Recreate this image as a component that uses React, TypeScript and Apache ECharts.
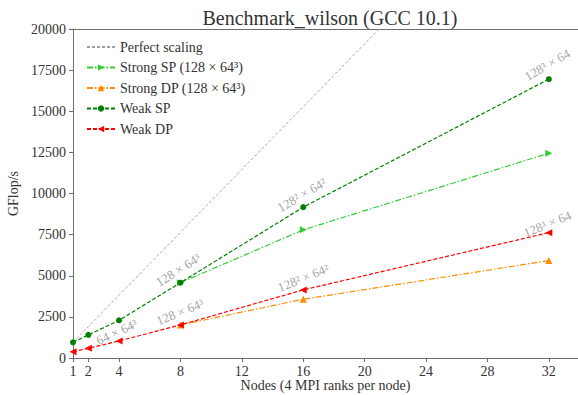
import React, { useEffect, useRef } from "react";
import * as echarts from "echarts";

const nodes = [1, 2, 4, 8, 16, 32];
const strongNodes = [8, 16, 32];
const perfectX = [1, 32];
const perfectY = [955, 30560];
const strongSP = [4580, 7790, 12450];
const strongDP = [2010, 3570, 5920];
const weakSP = [955, 1400, 2290, 4580, 9170, 16950];
const weakDP = [385, 590, 1035, 2010, 4140, 7620];
const xTicks = [1, 2, 4, 8, 12, 16, 20, 24, 28, 32];
const annoText = ["64 × 64³", "128 × 64³", "128 × 64³", "128² × 64²", "128² × 64²", "128³ × 64", "128³ × 64"];
const annoX = [3.85, 7.85, 7.97, 15.9, 16.0, 31.9, 31.9];
const annoY = [1580, 5350, 2800, 9910, 4870, 17820, 8150];
const annoAngle = [25, 32, 22, 30, 22, 30, 22];

const FONT = "'Liberation Serif', 'Times New Roman', serif";

export default function App() {
  const ref = useRef<HTMLDivElement>(null);
  useEffect(() => {
    document.body.style.margin = "0";
    const chart = echarts.init(ref.current!, null, { renderer: "svg" });
    const mk = (xs: number[], ys: number[]) => xs.map((x, i) => [x, ys[i]]);
    const axisColor = "#6e6e6e";
    chart.setOption({
      animation: false,
      textStyle: { fontFamily: FONT },
      title: {
        text: "Benchmark_wilson (GCC 10.1)",
        left: 325,
        textAlign: "center",
        top: 3,
        textStyle: { fontFamily: FONT, fontSize: 20, fontWeight: "normal", color: "#333" },
      },
      legend: {
        data: [
          { name: "Perfect scaling", itemStyle: { opacity: 0 } },
          "Strong SP (128 × 64³)",
          "Strong DP (128 × 64³)",
          "Weak SP",
          "Weak DP",
        ],
        orient: "vertical",
        left: 81,
        top: 35,
        itemWidth: 28,
        itemHeight: 8,
        itemGap: 6.5,
        selectedMode: false,
        textStyle: { fontFamily: FONT, fontSize: 14, color: "#333" },
      },
      grid: { left: 73, top: 29, right: 0, bottom: 37, outerBoundsMode: "none", containLabel: false },
      xAxis: [
        {
          type: "value",
          min: 1,
          max: 33.9,
          name: "Nodes (4 MPI ranks per node)",
          nameLocation: "middle",
          nameGap: 20,
          nameMoveOverlap: false,
          nameTextStyle: { fontFamily: FONT, fontSize: 14, color: "#333", verticalAlign: "top" },
          axisLine: { lineStyle: { color: axisColor } },
          axisTick: { show: true, length: 4, customValues: xTicks, lineStyle: { color: axisColor } },
          axisLabel: { customValues: xTicks, fontFamily: FONT, fontSize: 14, color: "#333", margin: 6 },
          splitLine: { show: false },
        },
        {
          type: "value",
          position: "top",
          min: 1,
          max: 33.9,
          axisLine: { show: true, onZero: false, lineStyle: { color: axisColor } },
          axisTick: { show: false },
          axisLabel: { show: false },
          splitLine: { show: false },
        },
      ],
      yAxis: {
        type: "value",
        min: 0,
        max: 20000,
        interval: 2500,
        name: "GFlop/s",
        nameLocation: "middle",
        nameGap: 53,
        nameMoveOverlap: false,
        nameTextStyle: { fontFamily: FONT, fontSize: 14, color: "#333" },
        axisLine: { show: true, lineStyle: { color: axisColor } },
        axisTick: { show: true, length: 4, lineStyle: { color: axisColor } },
        axisLabel: {
          fontFamily: FONT,
          fontSize: 14,
          color: "#333",
          margin: 7,
          formatter: (v: number) => String(v),
        },
        splitLine: { show: false },
      },
      series: [
        {
          name: "Perfect scaling",
          type: "line",
          data: mk(perfectX, perfectY),
          symbol: "none",
          color: "#a0a0a0",
          lineStyle: { width: 0.9, type: [3, 2], color: "#a0a0a0" },
          z: 1,
        },
        {
          name: "Strong SP (128 × 64³)",
          type: "line",
          data: mk(strongNodes, strongSP),
          symbol: "triangle",
          symbolRotate: -90,
          symbolSize: 7,
          color: "#32cd32",
          lineStyle: { width: 1.2, type: [6, 2, 1.5, 2], color: "#32cd32" },
          z: 2,
        },
        {
          name: "Strong DP (128 × 64³)",
          type: "line",
          data: mk(strongNodes, strongDP),
          symbol: "triangle",
          symbolSize: 7,
          color: "#ff8c00",
          lineStyle: { width: 1.2, type: [6, 2, 1.5, 2], color: "#ff8c00" },
          z: 2,
        },
        {
          name: "Weak SP",
          type: "line",
          data: mk(nodes, weakSP),
          symbol: "circle",
          symbolSize: 6,
          color: "#008000",
          lineStyle: { width: 1.2, type: [4, 2], color: "#008000" },
          z: 3,
        },
        {
          name: "Weak DP",
          type: "line",
          data: mk(nodes, weakDP),
          symbol: "triangle",
          symbolRotate: 90,
          symbolSize: 7,
          color: "#ff0000",
          lineStyle: { width: 1.2, type: [4, 2], color: "#ff0000" },
          z: 3,
        },
        {
          name: "annotations",
          type: "scatter",
          symbolSize: 0,
          silent: true,
          data: annoText.map((t, i) => ({
            value: [annoX[i], annoY[i]],
            name: t,
            label: { rotate: annoAngle[i] },
          })),
          label: {
            show: true,
            position: "inside",
            formatter: (p: any) => p.name,
            fontFamily: FONT,
            fontSize: 13,
            color: "#8c8c8c",
          },
          z: 4,
        },
      ],
    });
    return () => chart.dispose();
  }, []);
  return <div ref={ref} style={{ width: 578, height: 395 }} />;
}
